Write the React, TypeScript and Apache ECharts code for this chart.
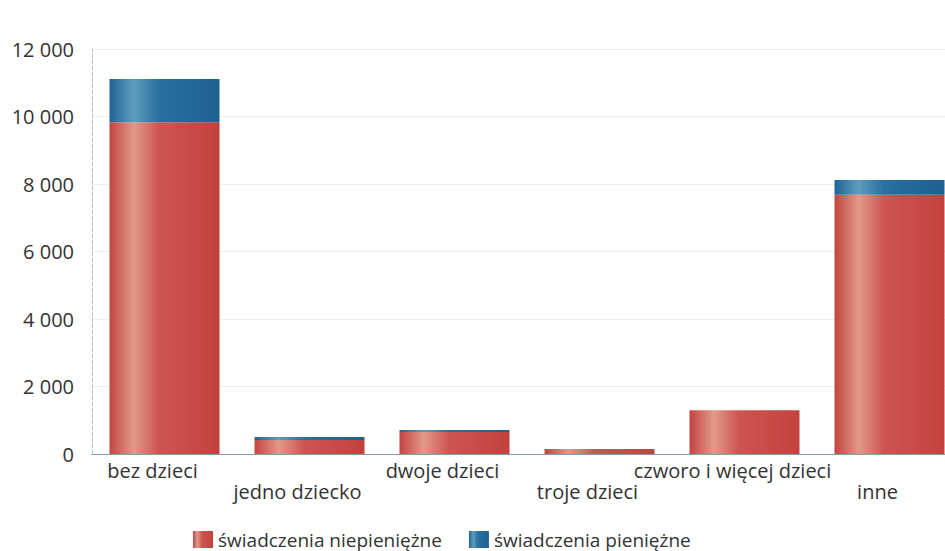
import React, { useEffect, useRef } from "react";
import * as echarts from "echarts";

const categories = ["bez dzieci", "jedno dziecko", "dwoje dzieci", "troje dzieci", "czworo i więcej dzieci", "inne"];
const nonCash = [9830, 415, 650, 145, 1300, 7680];
const cash = [1280, 90, 60, 5, 0, 440];
const seriesNames = ["świadczenia niepieniężne", "świadczenia pieniężne"];
const yTicks = [0, 2000, 4000, 6000, 8000, 10000, 12000];

const redGrad = () =>
  new echarts.graphic.LinearGradient(0, 0, 1, 0, [
    { offset: 0, color: "#c4443f" },
    { offset: 0.22, color: "#e09a8a" },
    { offset: 0.45, color: "#cd5550" },
    { offset: 1, color: "#c3413d" },
  ]);
const blueGrad = () =>
  new echarts.graphic.LinearGradient(0, 0, 1, 0, [
    { offset: 0, color: "#1f6595" },
    { offset: 0.22, color: "#5f9cbc" },
    { offset: 0.45, color: "#2770a0" },
    { offset: 1, color: "#1d6190" },
  ]);

export default function App() {
  const ref = useRef<HTMLDivElement>(null);
  useEffect(() => {
    if (!ref.current) return;
    const chart = echarts.init(ref.current, undefined, { renderer: "svg" });
    const fmt = (v: number) => String(v).replace(/\B(?=(\d{3})+(?!\d))/g, " ");
    chart.setOption({
      animation: false,
      textStyle: { fontFamily: "Open Sans" },
      grid: { left: 92, right: 0, top: 49, bottom: 97, containLabel: false },
      legend: {
        bottom: 2,
        left: 193,
        padding: 0,
        itemWidth: 20,
        itemHeight: 17,
        itemGap: 27,
        icon: "rect",
        textStyle: { fontSize: 19, color: "#333", fontFamily: "Open Sans" },
        data: seriesNames,
      },
      xAxis: {
        type: "category",
        data: categories,
        axisLine: { show: true, lineStyle: { color: "#8a98b8", width: 1 } },
        axisTick: { show: false },
        axisLabel: {
          interval: 0,
          fontSize: 20,
          color: "#333",
          fontFamily: "Open Sans",
          margin: 6,
          formatter: (v: string, i: number) => (i % 2 === 1 ? "{b|" + v + "}" : "{a|" + v + "}"),
          rich: {
            a: { fontSize: 20, color: "#333", fontFamily: "Open Sans", padding: [0, 24, 0, 0] },
            b: { fontSize: 20, color: "#333", fontFamily: "Open Sans", padding: [21, 24, 0, 0] },
          },
        },
      },
      yAxis: {
        type: "value",
        min: yTicks[0],
        max: yTicks[yTicks.length - 1],
        interval: 2000,
        axisLine: { show: true, lineStyle: { color: "#b8c0d4", width: 1, type: "dashed" } },
        axisTick: { show: false },
        splitLine: { show: true, lineStyle: { color: "#eceef2", width: 1 } },
        axisLabel: { fontSize: 20, color: "#333", fontFamily: "Open Sans", margin: 18, formatter: fmt },
      },
      series: [
        {
          name: seriesNames[0],
          type: "bar",
          stack: "s",
          barWidth: 110,
          data: nonCash,
          itemStyle: { color: redGrad() },
        },
        {
          name: seriesNames[1],
          type: "bar",
          stack: "s",
          barWidth: 110,
          data: cash,
          itemStyle: { color: blueGrad() },
        },
      ],
    });
    return () => chart.dispose();
  }, []);
  return (
    <div style={{ width: 945, height: 551, position: "absolute", left: 0, top: 0, overflow: "hidden", background: "#fff" }}>
      <div ref={ref} style={{ width: 962, height: 551 }} />
    </div>
  );
}
